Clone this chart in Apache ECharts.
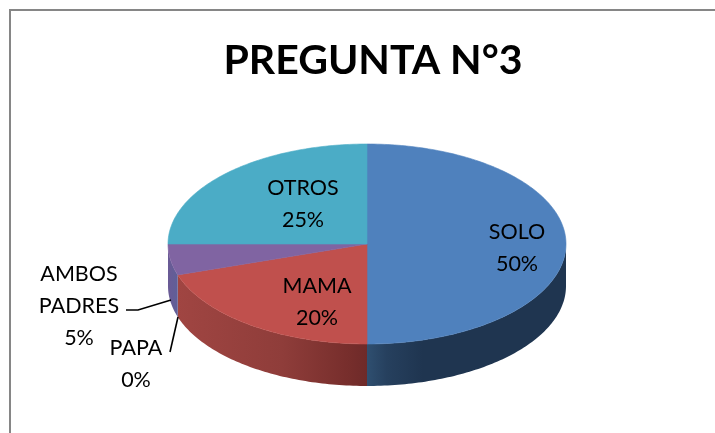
<!DOCTYPE html>
<html><head><meta charset="utf-8">
<style>html,body{margin:0;padding:0;background:#fff}#c{width:715px;height:433px}</style>
<script src="https://cdn.jsdelivr.net/npm/echarts@6/dist/echarts.min.js"></script>
</head><body><div id="c"></div>
<script>
const categories = ['SOLO', 'MAMA', 'PAPA', 'AMBOS PADRES', 'OTROS'];
const values = [50, 20, 0, 5, 25];
const titleText = 'PREGUNTA N°3';

// presentation only
const topColors = ['#4f81bd', '#c0504d', '#9bbb59', '#8064a2', '#4bacc6'];
const sideStops = [
  [[0, '#1f3550'], [0.72, '#1f3550'], [0.9, '#26405e'], [1, '#2f4f70']],
  [[0, '#6e2a29'], [0.1, '#772e2c'], [0.45, '#8f3d3a'], [1, '#a04542']],
  [[0, '#76923c'], [1, '#76923c']],
  [[0, '#5f5f98'], [1, '#6a5a95']],
  [[0, '#31859c'], [1, '#31859c']]
];
const labelLines = [
  ['SOLO', '50%'], ['MAMA', '20%'], ['PAPA', '0%'], ['AMBOS', 'PADRES', '5%'], ['OTROS', '25%']
];
const labelCentres = [[517, 248], [317, 302], [136, 364], [79, 306], [303, 204]];
const leaders = [null, null, [[170, 352], [178, 317]], [[126, 310], [138, 310], [171, 300]], null];
const cx = 367, cy = 244, rx = 199, ry = 100, depth = 42;
const total = values.reduce((a, b) => a + b, 0);
const startAngles = values.map((v, i) => values.slice(0, i).reduce((a, b) => a + b, 0) / total * 360);

const pt = (deg, dy) => {
  const r = deg * Math.PI / 180;
  return [cx + rx * Math.sin(r), cy - ry * Math.cos(r) + (dy || 0)];
};
const arc = (a, b, dy) => {
  const out = [];
  for (let d = a; d < b; d += 1) out.push(pt(d, dy));
  out.push(pt(b, dy));
  return out;
};

function renderItem(params, api) {
  const i = params.dataIndex;
  const v = api.value(0);
  const a = startAngles[i], b = a + v / total * 360;
  const children = [];
  const s = Math.max(a, 90), e = Math.min(b, 270);
  if (e > s) {
    const upper = arc(s, e, 0), lower = arc(s, e, depth).reverse();
    const x0 = pt(s)[0], x1 = pt(e)[0];
    const fill = new echarts.graphic.LinearGradient(x0, 0, x1, 0,
      sideStops[i].map(c => ({ offset: 1 - c[0] === 1 ? 0 : c[0], color: c[1] })), true);
    // stops run from right edge of the strip to its left edge
    children.push({ type: 'polygon', shape: { points: upper.concat(lower) },
      style: { fill: fill, stroke: null }, z2: 1 });
  }
  if (b > a) {
    children.push({ type: 'polygon', shape: { points: [[cx, cy]].concat(arc(a, b, 0)) },
      style: { fill: topColors[i], stroke: topColors[i], lineWidth: 0.6 }, z2: 2 });
  }
  if (leaders[i]) {
    children.push({ type: 'polyline', shape: { points: leaders[i] },
      style: { fill: null, stroke: '#000', lineWidth: 1.6 }, z2: 5 });
  }
  const lines = labelLines[i].slice(0, -1).concat(Math.round(v / total * 100) + '%');
  children.push({ type: 'text', x: labelCentres[i][0], y: labelCentres[i][1], z2: 6,
    style: { text: lines.join('\n'), fill: '#000', font: '21.5px Lato', lineHeight: 32,
      align: 'center', verticalAlign: 'middle' } });
  return { type: 'group', children: children };
}

const chart = echarts.init(document.getElementById('c'), null, { renderer: 'canvas' });
chart.setOption({
  animation: false,
  backgroundColor: '#fff',
  title: { text: titleText, left: 368, top: 35, textAlign: 'center',
    textStyle: { fontFamily: 'Lato', fontWeight: 'bold', fontSize: 41, color: '#000' } },
  graphic: [{ type: 'rect', shape: { x: 10, y: 10, width: 800, height: 500 }, silent: true, z: -1,
    style: { fill: '#fff', stroke: '#868686', lineWidth: 2 } }],
  series: [{ type: 'custom', coordinateSystem: 'none', clip: false, renderItem: renderItem,
    data: categories.map((c, i) => ({ name: c, value: [values[i]] })) }]
});
</script></body></html>
